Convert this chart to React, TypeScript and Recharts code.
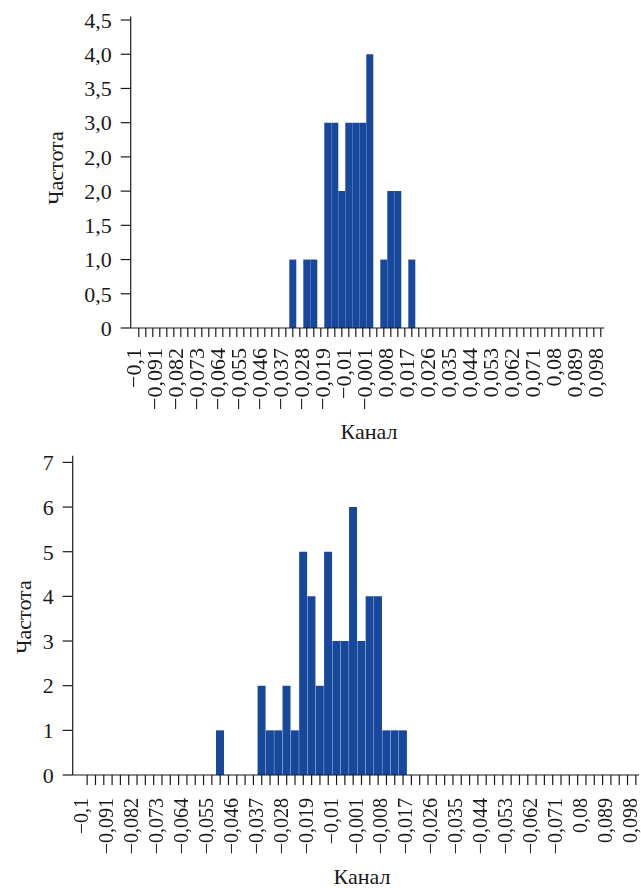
import React from "react";
import { BarChart, Bar, XAxis, YAxis, Label } from "recharts";

// histogram channels, step 0,003
const CHANNELS = [
  -0.1, -0.097, -0.094, -0.091, -0.088, -0.085, -0.082, -0.079, -0.076, -0.073,
  -0.07, -0.067, -0.064, -0.061, -0.058, -0.055, -0.052, -0.049, -0.046, -0.043,
  -0.04, -0.037, -0.034, -0.031, -0.028, -0.025, -0.022, -0.019, -0.016, -0.013,
  -0.01, -0.007, -0.004, -0.001, 0.002, 0.005, 0.008, 0.011, 0.014, 0.017,
  0.02, 0.023, 0.026, 0.029, 0.032, 0.035, 0.038, 0.041, 0.044, 0.047,
  0.05, 0.053, 0.056, 0.059, 0.062, 0.065, 0.068, 0.071, 0.074, 0.077,
  0.08, 0.083, 0.086, 0.089, 0.092, 0.095, 0.098,
];

const COUNTS_A = [
  0, 0, 0, 0, 0, 0, 0, 0, 0, 0,
  0, 0, 0, 0, 0, 0, 0, 0, 0, 0,
  0, 0, 1, 0, 1, 1, 0, 3, 3, 2,
  3, 3, 3, 4, 0, 1, 2, 2, 0, 1,
  0, 0, 0, 0, 0, 0, 0, 0, 0, 0,
  0, 0, 0, 0, 0, 0, 0, 0, 0, 0,
  0, 0, 0, 0, 0, 0, 0,
];

const COUNTS_B = [
  0, 0, 0, 0, 0, 0, 0, 0, 0, 0,
  0, 0, 0, 0, 0, 0, 1, 0, 0, 0,
  0, 2, 1, 1, 2, 1, 5, 4, 2, 5,
  3, 3, 6, 3, 4, 4, 1, 1, 1, 0,
  0, 0, 0, 0, 0, 0, 0, 0, 0, 0,
  0, 0, 0, 0, 0, 0, 0, 0, 0, 0,
  0, 0, 0, 0, 0, 0, 0,
];

// every third channel gets a caption
const X_LABELS_A = [
  "−0,1", "−0,091", "−0,082", "−0,073", "−0,064", "−0,055", "−0,046", "−0,037",
  "−0,028", "−0,019", "−0,01", "−0,001", "0,008", "0,017", "0,026", "0,035",
  "0,044", "0,053", "0,062", "0,071", "0,08", "0,089", "0,098",
];

const X_LABELS_B = [
  "−0,1", "−0,091", "−0,082", "−0,073", "−0,064", "−0,055", "−0,046", "−0,037",
  "−0,028", "−0,019", "−0,01", "−0,001", "−0,008", "−0,017", "−0,026", "−0,035",
  "−0,044", "−0,053", "−0,062", "−0,071", "0,08", "0,089", "0,098",
];

const Y_TICKS_A = [0, 0.5, 1, 1.5, 2, 2.5, 3, 3.5, 4, 4.5];
const Y_LABELS_A = ["0", "0,5", "1,0", "1,5", "2,0", "2,0", "3,0", "3,5", "4,0", "4,5"];
const Y_TICKS_B = [0, 1, 2, 3, 4, 5, 6, 7];

const BAR_COLOR = "#18489c";
const INK = "#1a1a1a";
const FONT = "'Liberation Serif', 'Times New Roman', serif";

const dataA = CHANNELS.map((c, i) => ({ channel: c, count: COUNTS_A[i] }));
const dataB = CHANNELS.map((c, i) => ({ channel: c, count: COUNTS_B[i] }));

// rotated caption, drawn on every third tick only
const ChannelTick = ({ x, y, index, labels, size, shift }: any) => {
  if (index % 3 !== 0) return null;
  return (
    <g transform={`translate(${x},${y})`} style={{ filter: "grayscale(1)" }}>
      <text
        transform="rotate(-90)"
        x={0}
        y={shift}
        textAnchor="end"
        fontSize={size}
        fontFamily={FONT}
        fill={INK}
      >
        {labels[index / 3]}
      </text>
    </g>
  );
};

const title = (text: string, x: number, y: number, extra: any = {}) => () => (
  <text x={x} y={y} textAnchor="middle" fontSize={22} fontFamily={FONT} fill={INK} {...extra}>
    {text}
  </text>
);

const vTitle = (text: string, x: number, y: number) =>
  title(text, x, y, { transform: `rotate(-90 ${x} ${y})` });

const axisLine = { stroke: INK, strokeWidth: 1.2 };

export default function App() {
  return (
    <div
      style={{
        position: "fixed",
        left: 0,
        top: 0,
        width: 641,
        height: 888,
        overflow: "hidden",
        background: "#fff",
      }}
    >
      <BarChart
        width={641}
        height={450}
        data={dataA}
        barCategoryGap={0}
        barGap={0}
        margin={{ top: 16.6, right: 36.7, bottom: 0, left: 50.7 }}
      >
        <XAxis
          xAxisId="cat"
          dataKey="channel"
          type="category"
          interval={0}
          height={122}
          padding={{ left: 4.6, right: 0 }}
          tickSize={9}
          tickMargin={11}
          axisLine={axisLine}
          tickLine={axisLine}
          tick={<ChannelTick labels={X_LABELS_A} size={22} shift={2} />}
        >
          <Label content={title("Канал", 369, 439)} />
        </XAxis>
        <XAxis
          xAxisId="frame"
          dataKey="channel"
          orientation="top"
          height={0}
          tick={false}
          tickLine={false}
          axisLine={axisLine}
        >
          <Label content={title("а", 588, 33, { fontStyle: "italic", fontSize: 24 })} />
        </XAxis>
        <YAxis
          yAxisId="v"
          width={80}
          domain={[0, 4.55]}
          ticks={Y_TICKS_A}
          interval={0}
          tickSize={10}
          tickMargin={9}
          axisLine={axisLine}
          tickLine={axisLine}
          tickFormatter={(_v: number, i: number) => Y_LABELS_A[i]}
          tick={{ fontSize: 22, fontFamily: FONT, fill: INK }}
        >
          <Label content={vTitle("Частота", 63, 168)} />
        </YAxis>
        <YAxis
          yAxisId="frame"
          orientation="right"
          width={0}
          tick={false}
          tickLine={false}
          axisLine={axisLine}
        />
        <Bar
          dataKey="count"
          xAxisId="cat"
          yAxisId="v"
          fill={BAR_COLOR}
          isAnimationActive={false}
        />
      </BarChart>

      <BarChart
        width={641}
        height={438}
        data={dataB}
        barCategoryGap={0}
        barGap={0}
        margin={{ top: 5.7, right: 2, bottom: 0, left: 22.7 }}
      >
        <XAxis
          xAxisId="cat"
          dataKey="channel"
          type="category"
          interval={0}
          height={113}
          padding={{ left: 10.3, right: -1 }}
          tickSize={10}
          tickMargin={13}
          axisLine={axisLine}
          tickLine={axisLine}
          tick={<ChannelTick labels={X_LABELS_B} size={20} shift={1} />}
        >
          <Label content={title("Канал", 362, 434)} />
        </XAxis>
        <XAxis
          xAxisId="frame"
          dataKey="channel"
          orientation="top"
          height={0}
          tick={false}
          tickLine={false}
          axisLine={axisLine}
        >
          <Label content={title("б", 625, 40, { fontStyle: "italic", fontSize: 24 })} />
        </XAxis>
        <YAxis
          yAxisId="v"
          width={50}
          domain={[0, 7.15]}
          ticks={Y_TICKS_B}
          interval={0}
          tickSize={10}
          tickMargin={9}
          axisLine={axisLine}
          tickLine={axisLine}
          tick={{ fontSize: 22, fontFamily: FONT, fill: INK }}
        >
          <Label content={vTitle("Частота", 31, 167)} />
        </YAxis>
        <YAxis
          yAxisId="frame"
          orientation="right"
          width={0}
          tick={false}
          tickLine={false}
          axisLine={axisLine}
        />
        <Bar
          dataKey="count"
          xAxisId="cat"
          yAxisId="v"
          fill={BAR_COLOR}
          isAnimationActive={false}
        />
      </BarChart>
    </div>
  );
}
